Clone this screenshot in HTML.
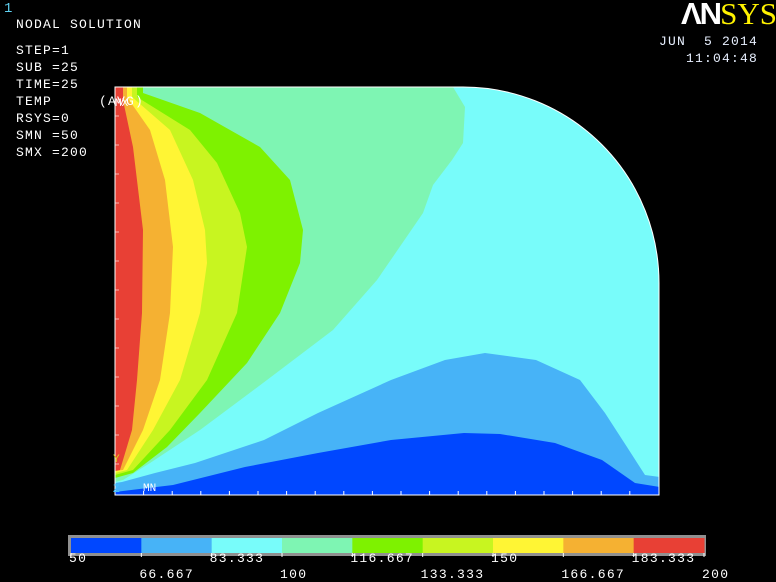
<!DOCTYPE html>
<html><head><meta charset="utf-8"><style>
html,body{margin:0;padding:0;background:#000;}
body{width:776px;height:582px;overflow:hidden;position:relative;font-family:"Liberation Mono",monospace;}
.t{position:absolute;z-index:2;color:#fff;font-size:13px;white-space:pre;line-height:13px;letter-spacing:1.2px;}
</style></head><body>
<div class="t" style="left:4px;top:3px;color:#5fd0f0;font-size:14px;">1</div>
<div class="t" style="left:16px;top:18px;">NODAL SOLUTION</div>
<div class="t" style="left:16px;top:44px;">STEP=1</div>
<div class="t" style="left:16px;top:61px;">SUB =25</div>
<div class="t" style="left:16px;top:78px;">TIME=25</div>
<div class="t" style="left:16px;top:95px;">TEMP</div>
<div class="t" style="left:99px;top:95px;">(AVG)</div>
<div class="t" style="left:16px;top:112px;">RSYS=0</div>
<div class="t" style="left:16px;top:129px;">SMN =50</div>
<div class="t" style="left:16px;top:146px;">SMX =200</div>
<div class="t" style="left:659px;top:35px;color:#e8f0ff;">JUN  5 2014</div>
<div class="t" style="left:686px;top:52px;color:#e8f0ff;">11:04:48</div>
<div style="position:absolute;left:681px;top:-2px;font-family:'Liberation Serif',serif;font-size:31px;line-height:31px;"><span style="color:#fff;font-family:'Liberation Sans',sans-serif;font-weight:bold;letter-spacing:-2px;">ΛN</span><span style="color:#fff200;">SYS</span></div>

<svg id="plot" width="776" height="582" style="position:absolute;left:0;top:0;z-index:1;">
<defs><clipPath id="dom"><path d="M115,87 L463,87 A196,196 0 0 1 659,283 L659,495 L115,495 Z"/></clipPath></defs>
<g id="regions" clip-path="url(#dom)"></g>
<path d="M115,87 L463,87 A196,196 0 0 1 659,283 L659,495 L115,495 Z" fill="none" stroke="#fff" stroke-width="1"/>
<g id="ticks"></g>
<text x="113" y="462" fill="#d8d020" font-size="11" font-family="Liberation Mono">Y</text>
<text x="113" y="492" fill="#40c0ff" font-size="11" font-family="Liberation Mono">Z</text>
<text x="143" y="491" fill="#fff" font-size="11" font-family="Liberation Mono">MN</text>
<text x="115" y="106" fill="#fff" font-size="11" font-family="Liberation Mono">MX</text>
<rect x="68" y="535" width="638" height="21" fill="#909090"/>
<g id="legend"></g>
</svg>
<script>
const levels=["50","66.667","83.333","100","116.667","133.333","150","166.667","183.333","200"];
const colors=["#0047ff","#47b3f7","#78fcfa","#7ef5b3","#7ef200","#c8f520","#fff534","#f5b132","#e84035"];
// contour boundaries (x,y in plot pixels)
const aquaEdge=[[453,87],[465,107],[463,143],[452,160],[433,185],[423,213],[377,280],[333,330],[267,380],[200,430],[150,463],[123,480],[115,482]];
const greenEdge=[[143,87],[143,93],[200,113],[260,147],[290,180],[303,230],[300,263],[280,313],[247,363],[200,413],[167,447],[133,473],[115,478]];
const ygEdge=[[137,87],[137,97],[190,130],[217,163],[240,213],[247,247],[237,313],[207,380],[170,430],[133,470],[115,475]];
const yellowEdge=[[132,87],[132,97],[170,130],[193,180],[205,230],[207,263],[200,313],[180,380],[153,430],[127,470],[115,473]];
const orangeEdge=[[127,87],[127,97],[150,130],[165,180],[173,247],[170,313],[160,380],[143,430],[123,470],[115,471]];
const redEdge=[[123,87],[123,100],[133,147],[143,230],[142,313],[137,380],[132,430],[120,470],[115,471]];
const lblueEdge=[[115,483],[122,482],[155,473],[195,463],[264,440],[318,413],[391,380],[445,360],[485,353],[536,360],[580,380],[605,413],[627,447],[645,475],[660,477]];
const blueEdge=[[115,492],[173,485],[245,467],[318,453],[391,440],[464,433],[500,434],[555,443],[602,460],[635,483],[660,487]];
const NS="http://www.w3.org/2000/svg";
const reg=document.getElementById('regions');
function poly(pts,fill,name){const p=document.createElementNS(NS,'path');
p.setAttribute('d','M'+pts.map(q=>q.join(',')).join(' L')+' Z');p.setAttribute('fill',fill);


reg.appendChild(p);}
const bg=document.createElementNS(NS,'rect');bg.setAttribute('x',100);bg.setAttribute('y',80);bg.setAttribute('width',570);bg.setAttribute('height',420);bg.setAttribute('fill',colors[2]);


reg.appendChild(bg);
const leftSide=[[110,500],[110,80]];
poly(aquaEdge.concat(leftSide),colors[3],'region-100-117');
poly(greenEdge.concat(leftSide),colors[4],'region-117-133');
poly(ygEdge.concat(leftSide),colors[5],'region-133-150');
poly(yellowEdge.concat(leftSide),colors[6],'region-150-167');
poly(orangeEdge.concat(leftSide),colors[7],'region-167-183');
poly(redEdge.concat(leftSide),colors[8],'region-183-200');
poly(lblueEdge.concat([[670,500],[110,500]]),colors[1],'region-67-83');
poly(blueEdge.concat([[670,500],[110,500]]),colors[0],'region-50-67');
// ticks
const tk=document.getElementById('ticks');
for(let i=1;i<19;i++){const x=115+i*28.6;const l=document.createElementNS(NS,'line');
l.setAttribute('x1',x);l.setAttribute('x2',x);l.setAttribute('y1',495);l.setAttribute('y2',491);l.setAttribute('stroke','#fff');


tk.appendChild(l);}
for(let i=1;i<14;i++){const y=87+i*29;const l=document.createElementNS(NS,'line');
l.setAttribute('x1',115);l.setAttribute('x2',119);l.setAttribute('y1',y);l.setAttribute('y2',y);l.setAttribute('stroke','#fff');l.setAttribute('stroke-opacity','0.6');


tk.appendChild(l);}
// legend
const lg=document.getElementById('legend');const x0=71,x1=704,w=(x1-x0)/colors.length;
colors.forEach((c,i)=>{const r=document.createElementNS(NS,'rect');r.setAttribute('x',x0+i*w);r.setAttribute('y',538);r.setAttribute('width',w+0.5);r.setAttribute('height',15);r.setAttribute('fill',c);


lg.appendChild(r);});
levels.forEach((s,i)=>{const x=x0+i*w;const t=document.createElementNS(NS,'text');t.setAttribute('x',x-2);t.setAttribute('y',i%2?578:562);
t.setAttribute('fill','#fff');t.setAttribute('font-size','13');t.setAttribute('letter-spacing','1.3');t.setAttribute('font-family','Liberation Mono, monospace');t.textContent=s;


lg.appendChild(t);
const l=document.createElementNS(NS,'line');l.setAttribute('x1',x);l.setAttribute('x2',x);l.setAttribute('y1',553);l.setAttribute('y2',557);l.setAttribute('stroke','#fff');


lg.appendChild(l);});
</script>
</body></html>
